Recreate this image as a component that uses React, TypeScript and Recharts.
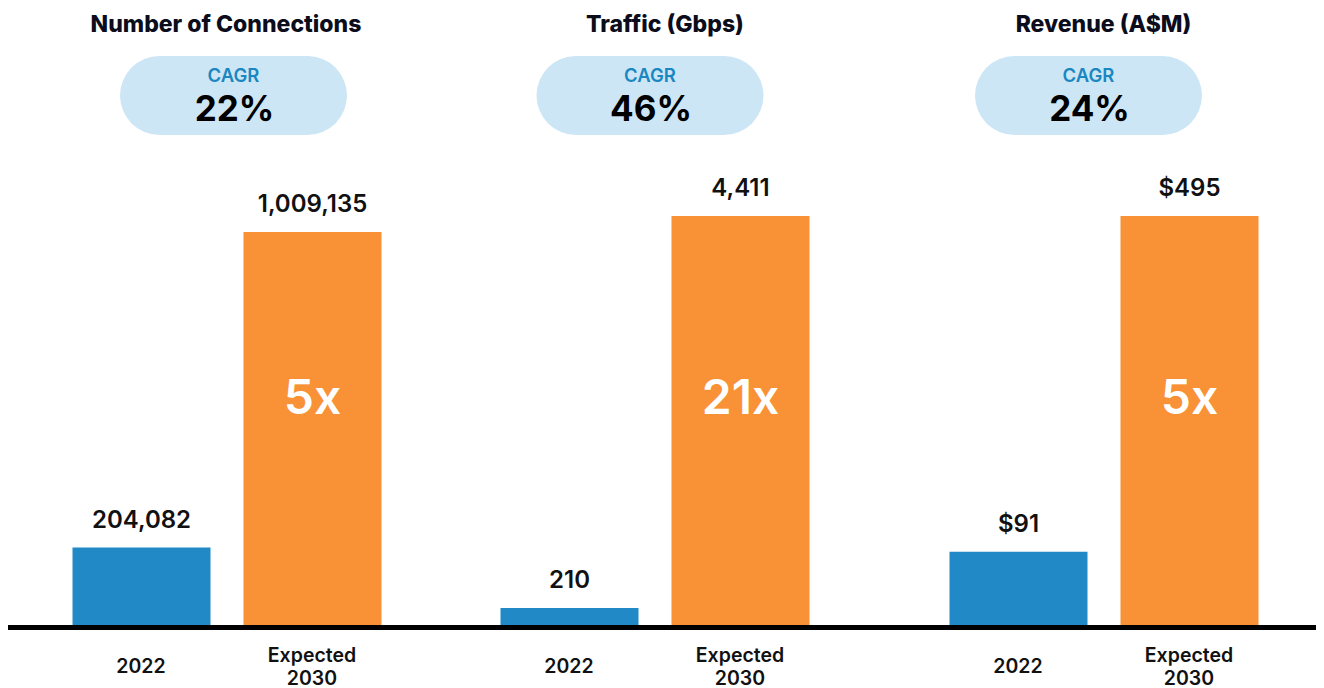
import React from "react";
import { BarChart, Bar, XAxis, YAxis, Cell, LabelList } from "recharts";

const categories = ["2022", "Expected\n2030"];
const connections = [204082, 1009135];
const traffic = [210, 4411];
const revenue = [91, 495];
const multiples = ["5x", "21x", "5x"];
const cagr = ["22%", "46%", "24%"];
const titles = ["Number of Connections", "Traffic (Gbps)", "Revenue (A$M)"];

const FONT = "Inter, 'Noto Sans', sans-serif";
const BLUE = "#2189C6";
const ORANGE = "#F99136";
const barColors = [BLUE, ORANGE];

const panels = [
  { values: connections, fmt: (v) => v.toLocaleString("en-US"), domain: [0, 1050000], left: 0, width: 432, pad: { left: 47.5, right: 42.5 } },
  { values: traffic, fmt: (v) => v.toLocaleString("en-US"), domain: [0, "dataMax"], left: 432, width: 439, pad: { left: 43.5, right: 53.5 } },
  { values: revenue, fmt: (v) => "$" + v, domain: [0, "dataMax"], left: 871, width: 445, pad: { left: 53.5, right: 49.5 } },
];

// header positions (page coords minus the 8px body margin)
const titleX = [218, 657, 1095.5];
const pillX = [225.5, 642, 1080.5];

const Tick = ({ x, y, payload }) => {
  const lines = String(payload.value).split("\n");
  const first = 37.5 - (lines.length - 1) * 11.5;
  return (
    <g>
      {lines.map((l, i) => (
        <text key={i} x={x} y={y + first + i * 23} textAnchor="middle" fontFamily={FONT} fontSize={19.5} fontWeight={600} fill="#111">
          {l}
        </text>
      ))}
    </g>
  );
};

const MultLabel = ({ x, y, width, height, value }) => {
  if (!value) return null;
  return (
    <text x={x + width / 2} y={y + height - 214} textAnchor="middle" fontFamily={FONT} fontSize={48} fontWeight={600} fill="#fff">
      {value}
    </text>
  );
};

const Panel = ({ p, mult }) => {
  const data = categories.map((name, i) => ({ name, value: p.values[i], mult: i === 1 ? mult : "" }));
  return (
    <div style={{ position: "absolute", left: p.left, top: 0 }}>
      <BarChart width={p.width} height={680} data={data} margin={{ top: 208, right: 0, bottom: 0, left: 0 }}>
        <XAxis
          dataKey="name"
          interval={0}
          height={60.5}
          padding={p.pad}
          axisLine={{ stroke: "#000", strokeWidth: 5 }}
          tickLine={false}
          tick={<Tick />}
        />
        <YAxis hide domain={p.domain} />
        <Bar dataKey="value" barSize={138} isAnimationActive={false}>
          {data.map((d, i) => (
            <Cell key={i} fill={barColors[i]} />
          ))}
          <LabelList
            dataKey="value"
            position="top"
            offset={20}
            formatter={p.fmt}
            style={{ fontFamily: FONT, fontSize: 24, fontWeight: 600, fill: "#111" }}
          />
          <LabelList dataKey="mult" content={<MultLabel />} />
        </Bar>
      </BarChart>
    </div>
  );
}

export default function App() {
  return (
    <div style={{ position: "relative", width: 1316, height: 680, background: "#fff" }}>
      <svg width={1316} height={140} style={{ position: "absolute", left: 0, top: 0 }}>
        {titles.map((t, i) => (
          <text key={t} x={titleX[i]} y={23.5} textAnchor="middle" fontFamily={FONT} fontSize={23} fontWeight={800} fill="#0c0d1c">
            {t}
          </text>
        ))}
        {cagr.map((c, i) => (
          <g key={i}>
            <rect x={pillX[i] - 113.5} y={48} width={227} height={79} rx={39.5} fill="#CCE6F6" />
            <text x={pillX[i]} y={74} textAnchor="middle" fontFamily={FONT} fontSize={18.5} fontWeight={600} fill="#1A87C1">
              CAGR
            </text>
            <text x={pillX[i] + 1} y={113} textAnchor="middle" fontFamily={FONT} fontSize={35} fontWeight={700} fill="#000">
              {c}
            </text>
          </g>
        ))}
      </svg>
      {panels.map((p, i) => (
        <Panel key={i} p={p} mult={multiples[i]} />
      ))}
    </div>
  );
}
